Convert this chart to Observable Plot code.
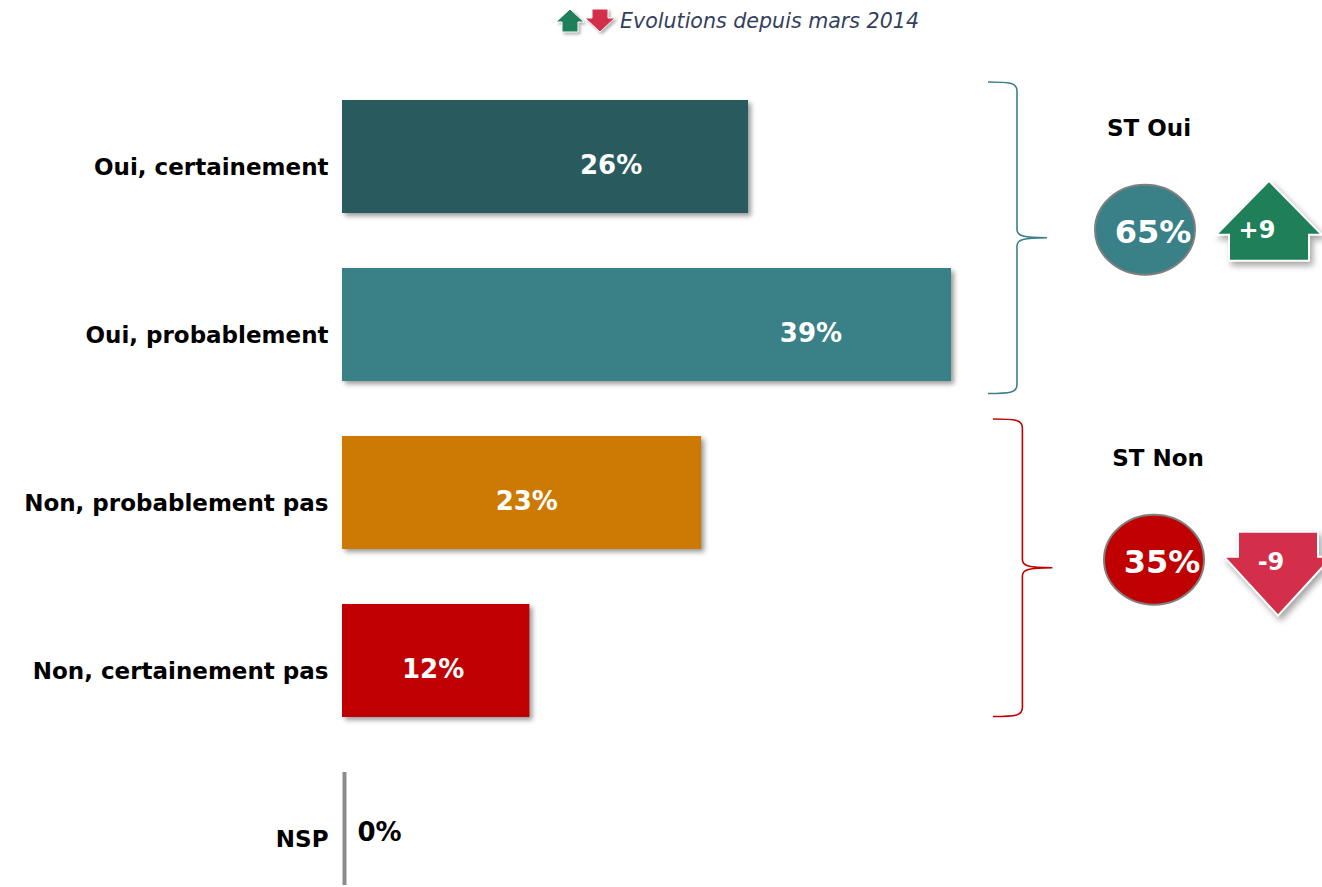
<!DOCTYPE html>
<html>
<head>
<meta charset="utf-8">
<script src="https://cdn.jsdelivr.net/npm/d3@7"></script>
<script src="https://cdn.jsdelivr.net/npm/@observablehq/plot@0.6"></script>
<style>
  body { margin: 0; background: #fff; font-family: "DejaVu Sans", sans-serif; }
  #title { position: relative; height: 45px; width: 1322px; }
  #title svg.icons { position: absolute; left: 555px; top: 9px; overflow: visible; }
  #title span { position: absolute; left: 620px; top: 9px; font-size: 20.6px; line-height: 24px; font-style: italic; color: #343f5e; white-space: nowrap; }
  #chart svg g[aria-label="bar"] rect { filter: drop-shadow(3px 3px 2.5px rgba(0,0,0,0.4)); }
  #chart svg .arrow { filter: drop-shadow(3px 4px 3px rgba(0,0,0,0.35)); }
</style>
</head>
<body>
<div id="title">
  <svg class="icons" width="62" height="26">
    <polygon points="15,0 29,13 23,13 23,23 7,23 7,13 1,13" fill="#1E7F58" stroke="#fff" stroke-width="1" style="filter:drop-shadow(2px 2px 1.5px rgba(0,0,0,0.3))"/>
    <polygon points="37,0 53,0 53,9 60,9 45,23 30,9 37,9" fill="#D32F4A" stroke="#fff" stroke-width="1" style="filter:drop-shadow(2px 2px 1.5px rgba(0,0,0,0.3))"/>
  </svg>
  <span>Evolutions depuis mars 2014</span>
</div>
<div id="chart"></div>
<script>
// ---- data ----
const categories = ["Oui, certainement", "Oui, probablement", "Non, probablement pas", "Non, certainement pas", "NSP"];
const values = [26, 39, 23, 12, 0];
const colors = ["#285A5E", "#3A8087", "#CC7A04", "#C00000", "#8C8C8C"];
const groups = ["ST Oui", "ST Non"];
const groupTotals = [65, 35];
const groupChanges = [9, -9];
const groupFirst = ["Oui, certainement", "Non, probablement pas"];
const groupLast = ["Oui, probablement", "Non, certainement pas"];
const groupColors = ["#3A8087", "#C00000"];
const arrowColors = ["#1E7F58", "#D32F4A"];

// ---- layout constants (not data) ----
const valueLabelAt = [17.2, 30.0, 11.8, 5.8];   // where the in-bar labels sit, in % units
const groupShiftX = [0, 9];
const braceExt = [[-18, 13], [-17, 0]];

const rows = categories.map((c, i) => ({category: c, value: values[i]}));
const barRows = rows.filter(d => d.value > 0);
const zeroRows = rows.filter(d => d.value === 0);

function annotations(index, scales, vals, dims) {
  const y = scales.y;
  const step = y(categories[1]) - y(categories[0]);
  const bw = step * (1 - 0.33);
  const g = d3.create("svg:g").attr("font-family", "DejaVu Sans").attr("font-weight", "bold");
  groups.forEach((name, i) => {
    const sx = groupShiftX[i];
    const top = y(groupFirst[i]) + braceExt[i][0];
    const bot = y(groupLast[i]) + bw + braceExt[i][1];
    const mid = (top + bot) / 2;
    const x0 = 988 + sx * 0.55, x1 = 1017 + sx * 0.6, x2 = 1047 + sx * 0.6;
    g.append("path")
      .attr("d", `M${x0},${top} C${x1 - 6},${top} ${x1},${top + 1} ${x1},${top + 9} L${x1},${mid - 8} C${x1},${mid - 2} ${x1 + 6},${mid} ${x2},${mid} C${x1 + 6},${mid} ${x1},${mid + 2} ${x1},${mid + 8} L${x1},${bot - 9} C${x1},${bot - 1} ${x1 - 6},${bot} ${x0},${bot}`)
      .attr("fill", "none").attr("stroke", groupColors[i]).attr("stroke-width", 1.6);
    const cx = 1145 + sx, cy = mid - 8;
    g.append("text").attr("x", cx + 4).attr("y", mid - 110).attr("text-anchor", "middle")
      .attr("dy", "0.36em").attr("font-size", 23).attr("fill", "#000").text(name);
    g.append("ellipse").attr("cx", cx).attr("cy", cy).attr("rx", 50).attr("ry", 45)
      .attr("fill", groupColors[i]).attr("stroke", "#7F7F7F").attr("stroke-width", 2);
    g.append("text").attr("x", cx + 8).attr("y", cy + 2).attr("text-anchor", "middle")
      .attr("dy", "0.36em").attr("font-size", 32).attr("fill", "#fff").text(groupTotals[i] + "%");
    const ax = cx + 124;
    let pts, ty;
    if (groupChanges[i] > 0) {
      const tip = cy - 49, sh = cy + 5, base = cy + 31;
      pts = [[ax, tip], [ax + 53, sh], [ax + 40, sh], [ax + 40, base], [ax - 40, base], [ax - 40, sh], [ax - 53, sh]];
      ty = cy;
    } else {
      const base = cy - 28, sh = cy - 3, tip = cy + 56;
      pts = [[ax - 40, base], [ax + 40, base], [ax + 40, sh], [ax + 54, sh], [ax, tip], [ax - 54, sh], [ax - 40, sh]];
      ty = cy + 2;
    }
    g.append("polygon").attr("class", "arrow").attr("points", pts.map(p => p.join(",")).join(" "))
      .attr("fill", arrowColors[i]).attr("stroke", "#fff").attr("stroke-width", 2);
    g.append("text").attr("x", ax + (groupChanges[i] > 0 ? -12 : -7)).attr("y", ty).attr("text-anchor", "middle")
      .attr("dy", "0.36em").attr("font-size", 24).attr("fill", "#fff")
      .text((groupChanges[i] > 0 ? "+" : "") + groupChanges[i]);
  });
  return g.node();
}

const chart = Plot.plot({
  width: 1322,
  height: 842,
  marginLeft: 342,
  marginRight: 0,
  marginTop: 55,
  marginBottom: 0,
  style: {fontFamily: "DejaVu Sans", fontSize: "23px", color: "#000", background: "#fff", overflow: "visible"},
  x: {domain: [0, 39], range: [342, 951], axis: null},
  y: {domain: categories, range: [55, 842], paddingInner: 0.33, paddingOuter: 0, align: 0, label: null},
  color: {domain: categories, range: colors},
  marks: [
    Plot.barX(barRows, {x: "value", y: "category", fill: "category"}),
    Plot.tickX(zeroRows, {x: "value", y: "category", stroke: "#8C8C8C", strokeWidth: 4, dx: 2}),
    Plot.axisY({tickSize: 0, tickPadding: 14, fontSize: 23, fontWeight: "bold", fill: "#000", dy: 11, label: null}),
    Plot.text(barRows, {x: (d, i) => valueLabelAt[i], y: "category", text: d => d.value + "%", fill: "#fff", fontSize: 26, fontWeight: "bold", dy: 9}),
    Plot.text(zeroRows, {x: "value", y: "category", text: d => d.value + "%", fill: "#000", fontSize: 26, fontWeight: "bold", textAnchor: "start", dx: 15, dy: 4}),
    annotations
  ]
});
document.getElementById("chart").appendChild(chart);
</script>
</body>
</html>
